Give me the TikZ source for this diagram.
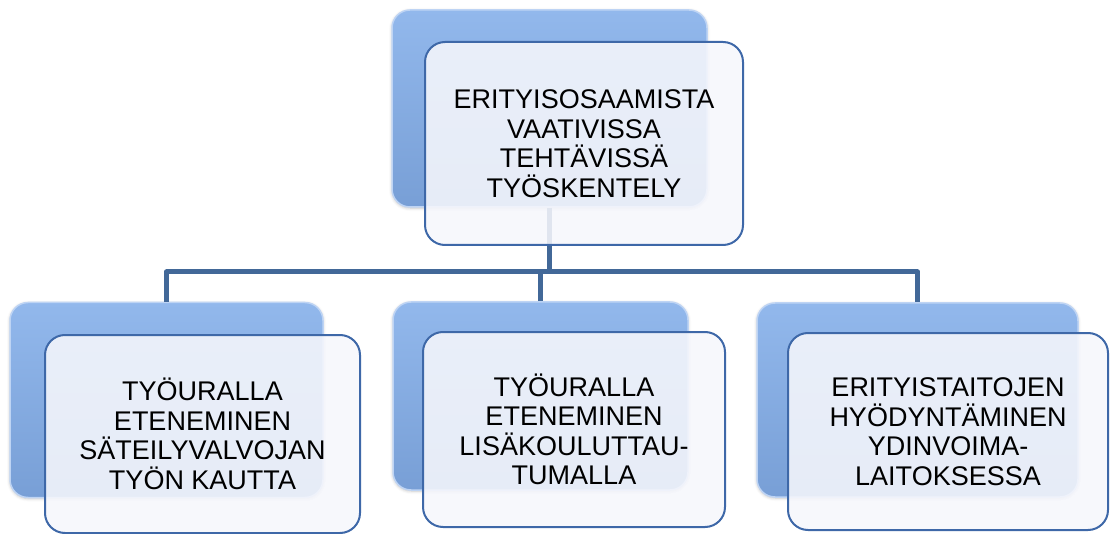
\documentclass[tikz,border=0pt]{standalone}
\usepackage{fontspec}
\setmainfont{Liberation Sans}
\usepackage{tikz}
\usetikzlibrary{calc}
\usetikzlibrary{shadows.blur}
\definecolor{backtop}{RGB}{146,184,236}
\definecolor{backbot}{RGB}{120,159,214}
\definecolor{frontfill}{RGB}{246,247,252}
\definecolor{frontline}{RGB}{62,104,168}
\definecolor{linkcol}{RGB}{66,104,152}
\tikzset{backbox/.style={rounded corners=18pt,top color=backtop,bottom color=backbot,draw=backtop!60!white,line width=1.5pt,blur shadow={shadow xshift=0pt,shadow yshift=-1pt,shadow blur radius=3pt,shadow opacity=25}}}
\tikzset{frontbox/.style={rounded corners=20pt,fill=frontfill,fill opacity=0.88,text opacity=1,draw=frontline,line width=2pt,align=center,font=\fontsize{27}{29.5}\selectfont}}
\tikzset{link/.style={draw=linkcol,line width=5pt,line join=round}}

\begin{document}
\begin{tikzpicture}[x=1pt,y=-1pt]

\useasboundingbox (0,0) rectangle (1110,534);

% back boxes
\node [backbox,minimum width=315pt,minimum height=197pt] (topback) at (549.5,108.5) {};
\node [backbox,minimum width=313pt,minimum height=195pt] (leftback) at (166.5,400) {};
\node [backbox,minimum width=295pt,minimum height=188pt] (midback) at (540.5,396) {};
\node [backbox,minimum width=321pt,minimum height=194pt] (rightback) at (917.5,400) {};

% connectors
\coordinate (bus) at (0,272);
\draw [link] (topback.south) -- (topback.south |- bus);
\draw [link] (leftback.north) |- (rightback.north |- bus) -- (rightback.north);
\draw [link] (midback.north) -- (midback.north |- bus);

% front boxes
\node [frontbox,minimum width=318pt,minimum height=203pt] (topfront) at (584,143.5) {ERITYISOSAAMISTA\\VAATIVISSA\\TEHTÄVISSÄ\\TYÖSKENTELY};
\node [frontbox,minimum width=315pt,minimum height=198pt] (leftfront) at (202.5,434) {TYÖURALLA\\ETENEMINEN\\SÄTEILYVALVOJAN\\TYÖN KAUTTA};
\node [frontbox,minimum width=302pt,minimum height=195pt] (midfront) at (574,429.5) {TYÖURALLA\\ETENEMINEN\\LISÄKOULUTTAU-\\TUMALLA};
\node [frontbox,minimum width=320pt,minimum height=197pt] (rightfront) at (948,431.5) {ERITYISTAITOJEN\\HYÖDYNTÄMINEN\\YDINVOIMA-\\LAITOKSESSA};

\end{tikzpicture}
\end{document}
